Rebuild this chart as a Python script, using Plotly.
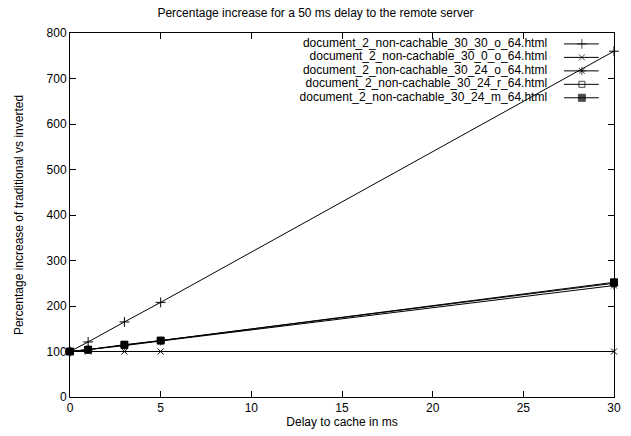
import plotly.graph_objects as go

# Delay to cache (ms)
delays = [0, 1, 3, 5, 30]

series_names = [
    "document_2_non-cachable_30_30_o_64.html",
    "document_2_non-cachable_30_0_o_64.html",
    "document_2_non-cachable_30_24_o_64.html",
    "document_2_non-cachable_30_24_r_64.html",
    "document_2_non-cachable_30_24_m_64.html",
]

# Percentage increase of traditional vs inverted
pct_30_30_o = [100, 121, 165, 208, 760]
pct_30_0_o = [100, 100, 100, 100, 100]
pct_30_24_o = [100, 104, 113, 123, 245]
pct_30_24_r = [100, 104, 114, 124, 250]
pct_30_24_m = [100, 104, 115, 124, 252]

series_values = [pct_30_30_o, pct_30_0_o, pct_30_24_o, pct_30_24_r, pct_30_24_m]
symbols = ["cross-thin-open", "x-thin-open", "asterisk-open", "square-open", "square"]
sizes = [7, 6, 7, 6, 7]

x_ticks = [0, 5, 10, 15, 20, 25, 30]
y_ticks = [0, 100, 200, 300, 400, 500, 600, 700, 800]

FONT = "Liberation Sans, Arial, Helvetica, sans-serif"

fig = go.Figure()

for name, vals, sym, sz in zip(series_names, series_values, symbols, sizes):
    fig.add_trace(go.Scatter(
        x=delays, y=vals, name=name, mode="lines+markers",
        line=dict(color="black", width=1),
        marker=dict(symbol=sym, size=sz, color="black",
                    line=dict(color="black", width=1)),
        showlegend=False, cliponaxis=False,
    ))

# gnuplot-style key: right-aligned text with line samples to its right
key_rows = [0.970, 0.933, 0.896, 0.859, 0.822]
for sym, sz, ky in zip(symbols, sizes, key_rows):
    fig.add_trace(go.Scatter(
        x=[0.908, 0.941, 0.972], y=[ky, ky, ky], mode="lines+markers",
        xaxis="x2", yaxis="y2",
        line=dict(color="black", width=1),
        marker=dict(symbol=sym, size=[0, sz, 0], color="black",
                    line=dict(color="black", width=1)),
        showlegend=False, hoverinfo="skip",
    ))
fig.add_trace(go.Scatter(
    x=[0.877] * len(series_names), y=key_rows, text=series_names,
    mode="text", textposition="middle left",
    textfont=dict(family=FONT, size=12, color="black"),
    xaxis="x2", yaxis="y2", showlegend=False, hoverinfo="skip",
))

axis_common = dict(
    showline=True, linecolor="black", linewidth=1, mirror="ticks",
    ticks="inside", ticklen=6, tickcolor="black", tickwidth=1,
    showgrid=False, zeroline=False, automargin=False,
    tickfont=dict(family=FONT, size=12, color="black"),
)

fig.update_layout(
    width=631, height=436,
    margin=dict(l=70, r=17, t=33, b=39),
    paper_bgcolor="white", plot_bgcolor="white",
    title=dict(text="Percentage increase for a 50 ms delay to the remote server",
               x=0.5, xanchor="center", y=0.970, yanchor="middle",
               font=dict(family=FONT, size=12, color="black")),
    xaxis=dict(range=[0, 30], tickvals=x_ticks,
               title=dict(text="Delay to cache in ms", standoff=0,
                          font=dict(family=FONT, size=12, color="black")),
               **axis_common),
    yaxis=dict(range=[0, 800], tickvals=y_ticks,
               title=dict(text="Percentage increase of traditional vs inverted", standoff=20,
                          font=dict(family=FONT, size=12, color="black")),
               **axis_common),
    xaxis2=dict(range=[0, 1], overlaying="x", visible=False),
    yaxis2=dict(range=[0, 1], overlaying="y", visible=False),
)

fig.write_html("out.html")
